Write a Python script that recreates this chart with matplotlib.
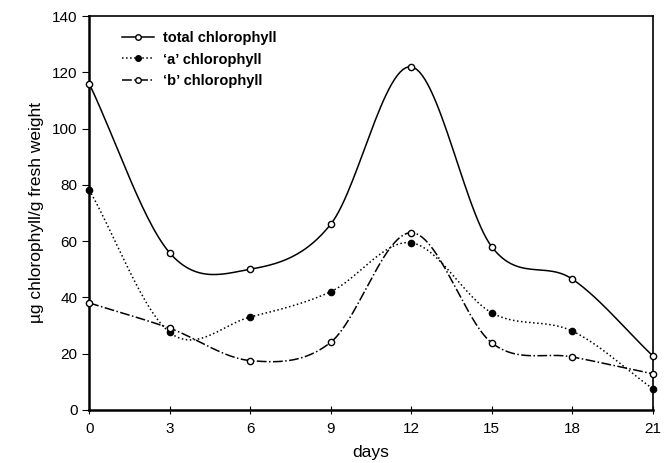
import numpy as np
import matplotlib.pyplot as plt
from matplotlib.lines import Line2D

plt.rcParams['font.family'] = ['Liberation Sans', 'DejaVu Sans']

days = [0, 3, 6, 9, 12, 15, 18, 21]
total = [116, 55.8, 50, 66, 122, 58, 46.5, 19.2]
chl_a = [78.2, 27.5, 33, 42, 59.4, 34.5, 28, 7.5]
chl_b = [38, 29, 17.5, 24, 63, 23.8, 18.8, 12.8]


def smooth(x, y, n=30):
    # catmull-rom through the points, just for drawing the curve
    x = np.asarray(x, float)
    y = np.asarray(y, float)
    px = np.concatenate([[2 * x[0] - x[1]], x, [2 * x[-1] - x[-2]]])
    py = np.concatenate([[2 * y[0] - y[1]], y, [2 * y[-1] - y[-2]]])
    xs, ys = [], []
    t = np.linspace(0, 1, n)
    for i in range(1, len(px) - 2):
        for p, out in ((px, xs), (py, ys)):
            p0, p1, p2, p3 = p[i - 1], p[i], p[i + 1], p[i + 2]
            out.extend(0.5 * (2 * p1 + (-p0 + p2) * t
                              + (2 * p0 - 5 * p1 + 4 * p2 - p3) * t ** 2
                              + (-p0 + 3 * p1 - 3 * p2 + p3) * t ** 3))
    return np.array(xs), np.array(ys)


fig = plt.figure(figsize=(6.66, 4.63), dpi=100)
ax = fig.add_axes([0.134, 0.115, 0.846, 0.85])

series = [
    (total, '-', 'white', 'total chlorophyll'),
    (chl_a, ':', 'black', '\u2018a\u2019 chlorophyll'),
    (chl_b, '-.', 'white', '\u2018b\u2019 chlorophyll'),
]
handles = []
for vals, ls, mfc, lab in series:
    sx, sy = smooth(days, vals)
    ax.plot(sx, sy, color='black', linestyle=ls, linewidth=1.1)
    ax.plot(days, vals, linestyle='none', marker='o', markersize=4.5,
            markerfacecolor=mfc, markeredgecolor='black', markeredgewidth=1,
            clip_on=False, zorder=3)
    handles.append(Line2D([], [], color='black', linestyle=ls, linewidth=1.1,
                          marker='o', markersize=4, markerfacecolor=mfc,
                          markeredgecolor='black', label=lab))

ax.set_xlim(0, 21)
ax.set_ylim(0, 140)
ax.set_xticks(days)
ax.set_yticks(range(0, 141, 20))
ax.tick_params(axis='x', direction='inout', length=6, labelsize=11, pad=6)
ax.tick_params(axis='y', direction='out', length=5, labelsize=11)
for s in ['left', 'bottom']:
    ax.spines[s].set_linewidth(1.8)
for s in ['top', 'right']:
    ax.spines[s].set_linewidth(1.2)

ax.set_xlabel('days', fontsize=12.5, labelpad=6)
ax.set_ylabel('\u00b5g chlorophyll/g fresh weight', fontsize=12.5, labelpad=6)

leg = ax.legend(handles=handles, loc='upper left', bbox_to_anchor=(0.035, 0.995),
                frameon=False, handlelength=2.2, handletextpad=0.6,
                labelspacing=0.5, prop={'weight': 'bold', 'size': 10.5})

fig.savefig('out.png', dpi=100)
